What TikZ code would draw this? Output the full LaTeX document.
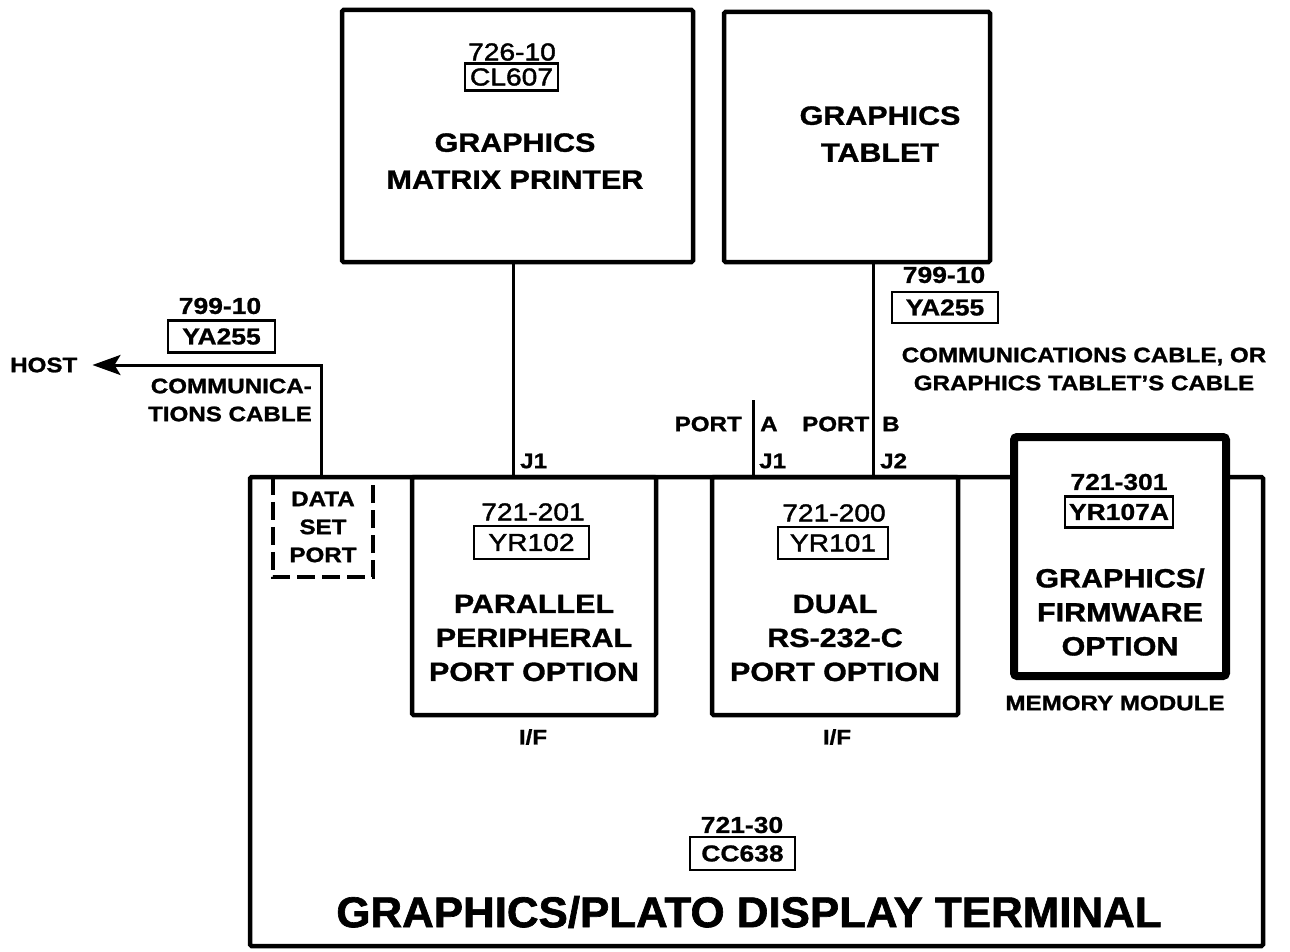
\documentclass[tikz,border=0pt]{standalone}
\usepackage{fontspec}
\newfontfamily\labfont[FakeStretch=1.15, BoldFeatures={FakeBold=1.2}]{Liberation Sans}
\newfontfamily\numfont[FakeStretch=1.15, FakeBold=1.6, BoldFeatures={FakeBold=1.0}]{Liberation Sans}
\newfontfamily\ttlfont[FakeStretch=1.02, BoldFeatures={FakeBold=1.5}]{Liberation Sans}
\usetikzlibrary{arrows.meta}
\newcommand\fBig{\labfont\bfseries\fontsize{26.5}{34}\selectfont}
\newcommand\fBigW{\labfont\bfseries\fontsize{26.5}{37}\selectfont}
\newcommand\fSmall{\labfont\bfseries\fontsize{21}{28}\selectfont}
\newcommand\fNum{\numfont\fontsize{24.5}{28}\selectfont}
\newcommand\fNumB{\numfont\bfseries\fontsize{23}{28}\selectfont}
\newcommand\fTitle{\ttlfont\bfseries\fontsize{43}{48}\selectfont}
\begin{document}
\begin{tikzpicture}[x=1pt,y=-1pt,
  frame/.style={draw, line width=4.5pt, inner sep=0pt, rounded corners=1.5pt},
  conn/.style={line width=3pt},
  dashbox/.style={line width=4pt, dash pattern=on 18pt off 7pt},
  code/.style={draw, line width=2.4pt, inner sep=0pt, font=\fNum},
  codeb/.style={code, font=\fNumB},
  num/.style={inner sep=0pt, font=\fNum},
  numb/.style={inner sep=0pt, font=\fNumB},
  big/.style={inner sep=0pt, font=\fBig, align=center},
  small/.style={inner sep=0pt, font=\fSmall, align=center}]
\useasboundingbox (0,0) rectangle (1290,952);
% main frames
\node[frame, minimum width=351, minimum height=252] (printer) at (517.5,136) {};
\node[frame, minimum width=266, minimum height=250] (tablet) at (857,137) {};
\node[frame, minimum width=1013, minimum height=469] (terminal) at (756.5,711.5) {};
\node[frame, minimum width=244, minimum height=238] (parallel) at (534,596) {};
\node[frame, minimum width=246, minimum height=238] (dual) at (835,596) {};
\node[frame, line width=8pt, fill=white, minimum width=212, minimum height=239, rounded corners=3pt] (memory) at (1120,556.5) {};
% data set port
\node[inner sep=0pt, minimum width=100, minimum height=100] (dsport) at (323,527) {};
\draw[dashbox] (dsport.north west) -- (dsport.south west) -- (dsport.south east) -- (dsport.north east);
\node[small] (dstext) at (323,527) {DATA\\SET\\PORT};
% printer
\node[num] (n72610) at (512,52) {726-10};
\node[code, minimum width=93, minimum height=27] (cl607) at (511.5,77) {CL607};
\node[big, font=\fBigW] (printertxt) at (515,161) {GRAPHICS\\MATRIX PRINTER};
% tablet
\node[big, font=\fBigW] (tablettxt) at (880,134) {GRAPHICS\\TABLET};
% connectors
\coordinate (pj1) at (513,477);
\draw[conn] (printer.south -| pj1) -- (pj1);
\node[small, anchor=west] (j1a) at (520,461) {J1};
\coordinate (paTop) at (753,400);
\coordinate (paBot) at (753,477);
\draw[conn] (paTop) -- (paBot);
\coordinate (pb) at (873,477);
\draw[conn] (tablet.south -| pb) -- (pb);
\node[small, anchor=east] (portA) at (742,424) {PORT};
\node[small, anchor=west] (Alab) at (760,424) {A};
\node[small, anchor=west] (portB) at (802,424) {PORT};
\node[small, anchor=west] (Blab) at (882,424) {B};
\node[small, anchor=west] (j1b) at (759,461) {J1};
\node[small, anchor=west] (j2) at (880,461) {J2};
% right cable label
\node[numb] (n79910r) at (944,275) {799-10};
\node[codeb, minimum width=106, minimum height=31] (ya255r) at (945,307.5) {YA255};
\node[small] (cablenote) at (1084,369) {COMMUNICATIONS CABLE, OR\\GRAPHICS TABLET’S CABLE};
% left cable / host
\node[numb] (n79910l) at (220,306) {799-10};
\node[codeb, minimum width=107, minimum height=32] (ya255l) at (221.5,336.5) {YA255};
\node[small, anchor=west] (host) at (10,365) {HOST};
\coordinate (dsp) at (321,477);
\draw[conn, -{Stealth[length=28pt,width=20pt,inset=6pt]}] (dsp) |- ([xshift=15pt]host.east);
\node[small, align=right, anchor=east] (commcable) at (312,400) {COMMUNICA-\\TIONS CABLE};
% parallel option
\node[num] (n721201) at (533,512) {721-201};
\node[code, minimum width=115, minimum height=33] (yr102) at (531.5,542.5) {YR102};
\node[big] (partxt) at (534,638) {PARALLEL\\PERIPHERAL\\PORT OPTION};
\node[small] (if1) at (533,737) {I/F};
% dual option
\node[num] (n721200) at (834,513) {721-200};
\node[code, minimum width=110, minimum height=32] (yr101) at (833,543) {YR101};
\node[big] (dualtxt) at (835,638) {DUAL\\RS-232-C\\PORT OPTION};
\node[small] (if2) at (837,737) {I/F};
% memory module
\node[numb] (n721301) at (1119,482) {721-301};
\node[codeb, minimum width=108, minimum height=31] (yr107a) at (1119,512) {YR107A};
\node[big] (memtxt) at (1120,612) {GRAPHICS/\\FIRMWARE\\OPTION};
\node[small] (memmod) at (1115,703) {MEMORY MODULE};
% terminal
\node[numb] (n72130) at (742,825) {721-30};
\node[codeb, minimum width=105, minimum height=33] (cc638) at (742.5,853.5) {CC638};
\node[inner sep=0pt, font=\fTitle] (title) at (749,912) {GRAPHICS/PLATO DISPLAY TERMINAL};
\end{tikzpicture}
\end{document}
